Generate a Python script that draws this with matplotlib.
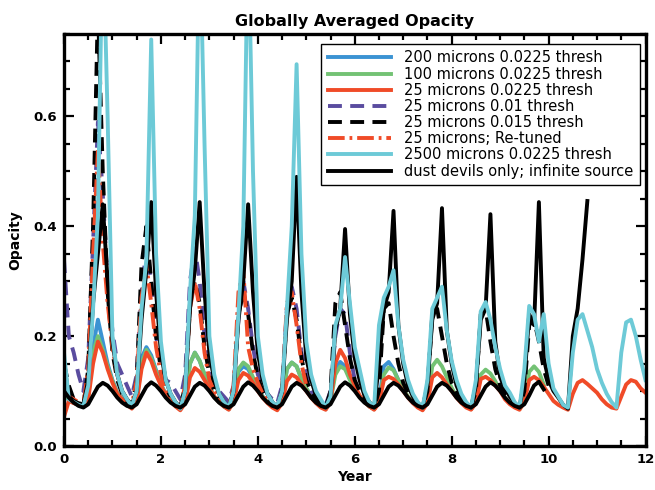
import numpy as np
import matplotlib
matplotlib.use("Agg")
import matplotlib.pyplot as plt

plt.rcParams['lines.scale_dashes'] = False

# time axis, one sample every 0.1 year
step = 0.1
years = np.round(np.arange(0, 12.0 + step / 2, step), 1)

# 200 microns 0.0225 thresh (ends at year 7)
blue_200 = [0.110, 0.083, 0.079, 0.075, 0.073, 0.095, 0.180, 0.230, 0.190, 0.150,
            0.120, 0.097, 0.086, 0.077, 0.070, 0.085, 0.160, 0.180, 0.165, 0.138,
            0.113, 0.094, 0.083, 0.074, 0.068, 0.082, 0.150, 0.170, 0.155, 0.130,
            0.108, 0.090, 0.080, 0.072, 0.067, 0.082, 0.135, 0.145, 0.140, 0.123,
            0.105, 0.090, 0.080, 0.072, 0.067, 0.082, 0.140, 0.152, 0.145, 0.123,
            0.105, 0.090, 0.080, 0.072, 0.067, 0.082, 0.140, 0.153, 0.145, 0.123,
            0.106, 0.090, 0.080, 0.072, 0.067, 0.082, 0.145, 0.153, 0.140, 0.120,
            0.104]

# 100 microns 0.0225 thresh (ends near year 10)
green_100 = [0.110, 0.083, 0.079, 0.075, 0.073, 0.090, 0.170, 0.200, 0.175, 0.145,
             0.118, 0.096, 0.085, 0.076, 0.069, 0.082, 0.150, 0.175, 0.160, 0.135,
             0.112, 0.093, 0.083, 0.073, 0.067, 0.082, 0.150, 0.170, 0.155, 0.130,
             0.108, 0.090, 0.080, 0.072, 0.067, 0.082, 0.140, 0.152, 0.145, 0.125,
             0.105, 0.090, 0.080, 0.072, 0.067, 0.082, 0.140, 0.152, 0.145, 0.122,
             0.105, 0.090, 0.080, 0.072, 0.067, 0.082, 0.130, 0.145, 0.140, 0.120,
             0.105, 0.090, 0.080, 0.072, 0.067, 0.080, 0.130, 0.143, 0.138, 0.120,
             0.104, 0.090, 0.080, 0.072, 0.067, 0.082, 0.145, 0.157, 0.145, 0.125,
             0.106, 0.090, 0.080, 0.072, 0.067, 0.080, 0.130, 0.139, 0.132, 0.118,
             0.102, 0.088, 0.078, 0.072, 0.067, 0.082, 0.135, 0.145, 0.135, 0.112]

# 25 microns 0.0225 thresh
red_25 = [0.053, 0.082, 0.078, 0.075, 0.072, 0.085, 0.150, 0.190, 0.170, 0.140,
          0.115, 0.095, 0.085, 0.075, 0.068, 0.080, 0.140, 0.170, 0.155, 0.130,
          0.110, 0.092, 0.082, 0.072, 0.065, 0.078, 0.125, 0.142, 0.135, 0.120,
          0.105, 0.090, 0.080, 0.072, 0.066, 0.080, 0.120, 0.133, 0.128, 0.115,
          0.100, 0.088, 0.078, 0.070, 0.065, 0.078, 0.118, 0.130, 0.125, 0.112,
          0.100, 0.088, 0.078, 0.070, 0.066, 0.080, 0.150, 0.175, 0.160, 0.130,
          0.110, 0.092, 0.080, 0.072, 0.066, 0.078, 0.120, 0.126, 0.122, 0.112,
          0.100, 0.088, 0.078, 0.070, 0.065, 0.078, 0.125, 0.133, 0.125, 0.112,
          0.100, 0.088, 0.078, 0.070, 0.066, 0.078, 0.122, 0.126, 0.120, 0.110,
          0.100, 0.085, 0.076, 0.070, 0.066, 0.080, 0.120, 0.126, 0.120, 0.108,
          0.095, 0.082, 0.075, 0.070, 0.066, 0.095, 0.115, 0.120, 0.113, 0.105,
          0.097, 0.085, 0.076, 0.070, 0.068, 0.090, 0.112, 0.120, 0.117, 0.105,
          0.097]

# 25 microns 0.01 thresh (ends at year 6)
purple_25_01 = [0.340, 0.200, 0.170, 0.130, 0.100, 0.160, 0.370, 0.590, 0.460, 0.300,
                0.210, 0.150, 0.130, 0.110, 0.090, 0.130, 0.280, 0.360, 0.300, 0.200,
                0.150, 0.120, 0.115, 0.100, 0.085, 0.130, 0.300, 0.360, 0.300, 0.200,
                0.140, 0.115, 0.100, 0.090, 0.080, 0.110, 0.230, 0.300, 0.250, 0.180,
                0.130, 0.110, 0.095, 0.085, 0.078, 0.110, 0.250, 0.290, 0.250, 0.170,
                0.130, 0.100, 0.090, 0.080, 0.075, 0.100, 0.200, 0.250, 0.240, 0.170,
                0.120]

# 25 microns 0.015 thresh (ends at year 10)
black_25_015 = [0.150, 0.110, 0.085, 0.078, 0.075, 0.140, 0.400, 0.800, 0.500, 0.280,
                0.170, 0.120, 0.095, 0.080, 0.072, 0.120, 0.330, 0.400, 0.300, 0.200,
                0.140, 0.105, 0.090, 0.078, 0.070, 0.110, 0.260, 0.300, 0.260, 0.180,
                0.130, 0.100, 0.085, 0.075, 0.070, 0.100, 0.240, 0.280, 0.240, 0.170,
                0.125, 0.100, 0.085, 0.075, 0.070, 0.100, 0.240, 0.270, 0.230, 0.160,
                0.120, 0.100, 0.085, 0.075, 0.070, 0.100, 0.260, 0.280, 0.220, 0.160,
                0.120, 0.100, 0.085, 0.075, 0.070, 0.100, 0.250, 0.260, 0.200, 0.150,
                0.115, 0.095, 0.085, 0.075, 0.070, 0.100, 0.240, 0.250, 0.200, 0.150,
                0.115, 0.095, 0.085, 0.075, 0.070, 0.100, 0.240, 0.250, 0.190, 0.140,
                0.110, 0.095, 0.085, 0.075, 0.070, 0.100, 0.220, 0.230, 0.190, 0.140,
                0.110]

# 25 microns; Re-tuned (ends at year 5)
red_retuned = [0.100, 0.090, 0.085, 0.080, 0.075, 0.140, 0.350, 0.540, 0.370, 0.260,
               0.180, 0.130, 0.100, 0.085, 0.075, 0.120, 0.270, 0.330, 0.260, 0.180,
               0.130, 0.100, 0.088, 0.078, 0.070, 0.110, 0.250, 0.300, 0.250, 0.170,
               0.120, 0.100, 0.085, 0.075, 0.068, 0.110, 0.280, 0.320, 0.180, 0.140,
               0.115, 0.095, 0.083, 0.075, 0.068, 0.100, 0.260, 0.280, 0.220, 0.150,
               0.110]

# 2500 microns 0.0225 thresh
cyan_2500 = [0.170, 0.085, 0.080, 0.075, 0.072, 0.110, 0.250, 0.420, 0.950, 0.600,
             0.200, 0.130, 0.100, 0.085, 0.073, 0.100, 0.250, 0.340, 0.740, 0.350,
             0.190, 0.120, 0.095, 0.080, 0.068, 0.100, 0.280, 0.420, 0.950, 0.550,
             0.200, 0.130, 0.095, 0.080, 0.070, 0.100, 0.240, 0.400, 0.950, 0.500,
             0.200, 0.130, 0.095, 0.080, 0.072, 0.100, 0.250, 0.400, 0.695, 0.350,
             0.190, 0.130, 0.100, 0.085, 0.070, 0.090, 0.220, 0.250, 0.344, 0.260,
             0.180, 0.140, 0.100, 0.080, 0.070, 0.220, 0.270, 0.290, 0.320, 0.220,
             0.157, 0.120, 0.095, 0.080, 0.070, 0.120, 0.250, 0.270, 0.290, 0.210,
             0.155, 0.120, 0.095, 0.080, 0.070, 0.120, 0.245, 0.262, 0.230, 0.180,
             0.140, 0.110, 0.097, 0.080, 0.070, 0.140, 0.255, 0.240, 0.190, 0.240,
             0.150, 0.105, 0.090, 0.075, 0.070, 0.170, 0.230, 0.240, 0.210, 0.180,
             0.140, 0.115, 0.095, 0.080, 0.070, 0.170, 0.225, 0.230, 0.200, 0.157,
             0.120]

# dust devils only; infinite source (ends near year 10)
black_dd = [0.100, 0.088, 0.079, 0.073, 0.070, 0.076, 0.092, 0.108, 0.115, 0.110,
            0.100, 0.088, 0.079, 0.073, 0.070, 0.076, 0.092, 0.108, 0.116, 0.110,
            0.100, 0.088, 0.079, 0.073, 0.070, 0.076, 0.092, 0.108, 0.115, 0.110,
            0.100, 0.088, 0.079, 0.073, 0.070, 0.076, 0.092, 0.108, 0.116, 0.110,
            0.100, 0.088, 0.079, 0.073, 0.070, 0.076, 0.092, 0.108, 0.115, 0.110,
            0.100, 0.088, 0.079, 0.073, 0.070, 0.076, 0.092, 0.108, 0.116, 0.110,
            0.100, 0.088, 0.079, 0.073, 0.070, 0.076, 0.092, 0.108, 0.115, 0.110,
            0.100, 0.088, 0.079, 0.073, 0.070, 0.076, 0.092, 0.108, 0.115, 0.110,
            0.100, 0.088, 0.079, 0.073, 0.070, 0.076, 0.092, 0.108, 0.116, 0.110,
            0.100, 0.088, 0.079, 0.073, 0.070, 0.076, 0.092, 0.110, 0.117, 0.103]

# unlabelled black run with the tall spikes (ends at 10.8)
black_spike = [0.150, 0.090, 0.082, 0.078, 0.075, 0.120, 0.260, 0.350, 0.440, 0.300,
               0.190, 0.130, 0.100, 0.085, 0.075, 0.100, 0.230, 0.320, 0.444, 0.280,
               0.170, 0.120, 0.095, 0.080, 0.070, 0.100, 0.250, 0.320, 0.444, 0.280,
               0.170, 0.120, 0.095, 0.080, 0.070, 0.100, 0.230, 0.300, 0.440, 0.280,
               0.170, 0.120, 0.095, 0.080, 0.070, 0.100, 0.230, 0.300, 0.490, 0.280,
               0.160, 0.120, 0.092, 0.080, 0.070, 0.090, 0.210, 0.250, 0.395, 0.240,
               0.160, 0.120, 0.092, 0.080, 0.070, 0.150, 0.250, 0.280, 0.428, 0.220,
               0.150, 0.110, 0.090, 0.078, 0.070, 0.110, 0.230, 0.260, 0.433, 0.210,
               0.150, 0.110, 0.090, 0.078, 0.070, 0.110, 0.230, 0.250, 0.422, 0.190,
               0.125, 0.105, 0.090, 0.078, 0.070, 0.120, 0.240, 0.220, 0.444, 0.160,
               0.120, 0.100, 0.088, 0.075, 0.068, 0.200, 0.250, 0.340, 0.446]

fig = plt.figure(figsize=(6.55, 4.9), dpi=100)
ax = fig.add_axes([0.0977, 0.0898, 0.8878, 0.8408])

lw = 2.8
ax.plot(years[:len(blue_200)], blue_200, color='#3b93d3', lw=lw, label='200 microns 0.0225 thresh')
ax.plot(years[:len(green_100)], green_100, color='#73c274', lw=lw, label='100 microns 0.0225 thresh')
ax.plot(years[:len(red_25)], red_25, color='#f04b28', lw=lw, label='25 microns 0.0225 thresh')
ax.plot(years[:len(purple_25_01)], purple_25_01, color='#5a4c9f', lw=lw, dashes=(10, 6),
        label='25 microns 0.01 thresh')
ax.plot(years[:len(black_25_015)], black_25_015, color='black', lw=lw, dashes=(10, 6),
        label='25 microns 0.015 thresh')
ax.plot(years[:len(red_retuned)], red_retuned, color='#f04b28', lw=lw, dashes=(12, 3.5, 2, 3.5),
        label='25 microns; Re-tuned')
ax.plot(years[:len(black_spike)], black_spike, color='black', lw=lw, label='_nolegend_')
ax.plot(years[:len(cyan_2500)], cyan_2500, color='#6dcad7', lw=lw, label='2500 microns 0.0225 thresh')
ax.plot(years[:len(black_dd)], black_dd, color='black', lw=lw, label='dust devils only; infinite source')

ax.set_xlim(0, 12)
ax.set_ylim(0, 0.75)
ax.set_xticks([0, 2, 4, 6, 8, 10, 12])
ax.set_xticks(np.arange(0, 12.01, 0.5), minor=True)
ax.set_yticks([0.0, 0.2, 0.4, 0.6])
ax.set_yticks(np.arange(0, 0.751, 0.05), minor=True)
ax.set_yticklabels(['0.0', '0.2', '0.4', '0.6'])

ax.tick_params(which='both', direction='in', top=True, right=True, width=1.6)
ax.tick_params(which='major', length=7.5, pad=5)
ax.tick_params(which='minor', length=4)
for lab in ax.get_xticklabels() + ax.get_yticklabels():
    lab.set_fontweight('bold')
    lab.set_fontsize(9.5)
for sp in ax.spines.values():
    sp.set_linewidth(2.4)

ax.set_title('Globally Averaged Opacity', fontsize=11.5, fontweight='bold', pad=6)
ax.set_xlabel('Year', fontsize=10, fontweight='bold', labelpad=3)
ax.set_ylabel('Opacity', fontsize=10, fontweight='bold', labelpad=8)

leg = ax.legend(loc='upper right', bbox_to_anchor=(0.990, 0.976), borderaxespad=0,
                prop={'family': 'DejaVu Sans', 'size': 10.5},
                handlelength=4.3, handletextpad=0.9, labelspacing=0.08,
                borderpad=0.45, fancybox=False, framealpha=1, edgecolor='black')
leg.get_frame().set_linewidth(1.0)

plt.savefig('out.png', dpi=100)
